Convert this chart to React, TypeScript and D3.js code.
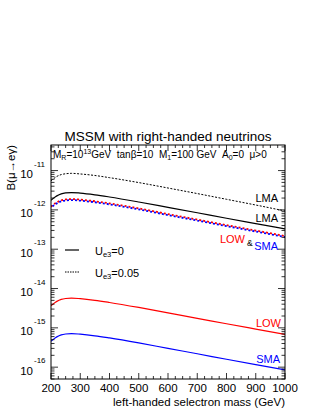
import React from 'react';
import * as d3 from 'd3';

// selectron mass (GeV)
const masses = [200, 210, 220, 235, 250, 270, 300, 350, 400, 500, 600, 700, 800, 900, 1000];

// B(mu -> e gamma)
const lmaDotted = [5.5e-12, 6.3e-12, 7.1e-12, 7.9e-12, 8.3e-12, 8.5e-12, 8.2e-12, 7.5e-12, 6.6e-12, 4.95e-12, 3.6e-12, 2.6e-12, 1.86e-12, 1.33e-12, 9.4e-13];
const lmaSolid = [1.76e-12, 2.02e-12, 2.27e-12, 2.56e-12, 2.7e-12, 2.76e-12, 2.67e-12, 2.42e-12, 2.13e-12, 1.59e-12, 1.16e-12, 8.45e-13, 6.13e-13, 4.49e-13, 3.29e-13];
const lowSmaDotted = [1.17e-12, 1.35e-12, 1.51e-12, 1.7e-12, 1.79e-12, 1.83e-12, 1.77e-12, 1.61e-12, 1.42e-12, 1.06e-12, 7.6e-13, 5.5e-13, 3.98e-13, 2.9e-13, 2.1e-13];
const lowSolid = [3.64e-15, 4.19e-15, 4.71e-15, 5.3e-15, 5.58e-15, 5.71e-15, 5.52e-15, 5.02e-15, 4.42e-15, 3.3e-15, 2.4e-15, 1.75e-15, 1.27e-15, 9.29e-16, 6.81e-16];
const smaSolid = [4.55e-16, 5.24e-16, 5.89e-16, 6.63e-16, 6.98e-16, 7.14e-16, 6.9e-16, 6.28e-16, 5.53e-16, 4.13e-16, 3.0e-16, 2.19e-16, 1.59e-16, 1.16e-16, 8.5e-17];

const xTickLabels = [200, 300, 400, 500, 600, 700, 800, 900, 1000];
const yDecades = [-16, -15, -14, -13, -12, -11];

const W = 316;
const H = 409;
const left = 51;
const right = 285;
const top = 145;
const bottom = 379;
const font = "'Liberation Sans', Arial, Helvetica, sans-serif";
const sp = '\u00a0';

export default function App() {
  const x = d3.scaleLinear().domain([200, 1000]).range([left, right]);
  const y = d3.scaleLog().domain([5e-17, 4.47e-11]).range([bottom, top]);

  const line = (vals: number[]) =>
    d3.line<number>()
      .x((_, i) => x(masses[i]))
      .y(d => y(d))
      .curve(d3.curveMonotoneX)(vals) as string;

  // log minor ticks
  const yMinor: number[] = [];
  for (let d = -17; d <= -11; d++) {
    for (let k = 2; k <= 9; k++) {
      const v = k * Math.pow(10, d);
      if (v > 5e-17 && v < 4.47e-11) yMinor.push(v);
    }
  }
  const xMinor = d3.range(200, 1001, 25).filter(v => v % 100 !== 0);

  return (
    <svg width={W} height={H} style={{ position: 'absolute', left: 0, top: 0, background: '#fff' }} fontFamily={font}>
      <text x={168} y={141} fontSize={13.5} textAnchor="middle">MSSM with right-handed neutrinos</text>

      {/* curves */}
      <g fill="none" clipPath="url(#clip)">
        <path d={line(lmaDotted)} stroke="#000" strokeWidth={1} strokeDasharray="2,1.5" />
        <path d={line(lmaSolid)} stroke="#000" strokeWidth={1.2} />
        <path d={line(lowSmaDotted)} stroke="#ff0000" strokeWidth={1.8} strokeDasharray="2,2" transform="translate(0,-0.5)" />
        <path d={line(lowSmaDotted)} stroke="#0000ff" strokeWidth={1.8} strokeDasharray="2,2" strokeDashoffset={2} transform="translate(0,0.5)" />
        <path d={line(lowSolid)} stroke="#ff0000" strokeWidth={1.2} />
        <path d={line(smaSolid)} stroke="#0000ff" strokeWidth={1.2} />
      </g>
      <defs>
        <clipPath id="clip">
          <rect x={left} y={top} width={right - left} height={bottom - top} />
        </clipPath>
      </defs>

      {/* frame */}
      <rect x={left} y={top} width={right - left} height={bottom - top} fill="none" stroke="#000" strokeWidth={1} />

      {/* ticks, inward on all sides */}
      <g stroke="#000" strokeWidth={0.8}>
        {xTickLabels.map(v => (
          <g key={'xm' + v}>
            <line x1={x(v)} x2={x(v)} y1={bottom} y2={bottom - 6} />
            <line x1={x(v)} x2={x(v)} y1={top} y2={top + 6} />
          </g>
        ))}
        {xMinor.map(v => (
          <g key={'xn' + v}>
            <line x1={x(v)} x2={x(v)} y1={bottom} y2={bottom - 3} />
            <line x1={x(v)} x2={x(v)} y1={top} y2={top + 3} />
          </g>
        ))}
        {yDecades.map(d => {
          const yy = y(Math.pow(10, d));
          return (
            <g key={'ym' + d}>
              <line x1={left} x2={left + 7} y1={yy} y2={yy} />
              <line x1={right} x2={right - 7} y1={yy} y2={yy} />
            </g>
          );
        })}
        {yMinor.map((v, i) => (
          <g key={'yn' + i}>
            <line x1={left} x2={left + 3.5} y1={y(v)} y2={y(v)} />
            <line x1={right} x2={right - 3.5} y1={y(v)} y2={y(v)} />
          </g>
        ))}
      </g>

      {/* x tick labels */}
      {xTickLabels.map(v => (
        <text key={'xl' + v} x={x(v)} y={392} fontSize={11.5} textAnchor="middle">{v}</text>
      ))}
      <text x={right} y={406} fontSize={11.5} textAnchor="end">left-handed selectron mass (GeV)</text>

      {/* y tick labels */}
      {yDecades.map(d => {
        const yy = y(Math.pow(10, d));
        return (
          <g key={'yl' + d}>
            <text x={33} y={yy + 7.5} fontSize={11.5} textAnchor="end">10</text>
            <text x={34} y={yy - 4} fontSize={8}>{d}</text>
          </g>
        );
      })}
      <text transform={`translate(15,${top}) rotate(-90)`} fontSize={11.5} textAnchor="end">B(μ→eγ)</text>

      {/* parameters */}
      <text x={53} y={158} fontSize={10}>
        <tspan>M</tspan><tspan fontSize={7} dy={2}>R</tspan><tspan dy={-2}>=10</tspan><tspan fontSize={7} dy={-4}>13</tspan>
        <tspan dy={4}>{`GeV${sp}${sp}tanβ=10${sp}${sp}M`}</tspan><tspan fontSize={7} dy={2}>1</tspan><tspan dy={-2}>{`=100 GeV${sp}${sp}A`}</tspan>
        <tspan fontSize={7} dy={2}>0</tspan><tspan dy={-2}>{`=0${sp}${sp}μ>0`}</tspan>
      </text>

      {/* legend */}
      <line x1={65} x2={79} y1={250} y2={250} stroke="#000" strokeWidth={1.2} />
      <text x={95} y={255} fontSize={11}>U<tspan fontSize={7.5} dy={2}>e3</tspan><tspan dy={-2}>=0</tspan></text>
      <line x1={65} x2={79} y1={272} y2={272} stroke="#000" strokeWidth={1} strokeDasharray="1.5,1" />
      <text x={95} y={277} fontSize={11}>U<tspan fontSize={7.5} dy={2}>e3</tspan><tspan dy={-2}>=0.05</tspan></text>

      {/* curve labels */}
      <text x={278} y={202} fontSize={11} textAnchor="end">LMA</text>
      <text x={278} y={222} fontSize={11} textAnchor="end">LMA</text>
      <text x={245} y={243} fontSize={11} textAnchor="end" fill="#ff0000">LOW</text>
      <text x={247} y={246} fontSize={8.5}>&amp;</text>
      <text x={278} y={250} fontSize={11} textAnchor="end" fill="#0000ff">SMA</text>
      <text x={281} y={327} fontSize={11} textAnchor="end" fill="#ff0000">LOW</text>
      <text x={280} y={363} fontSize={11} textAnchor="end" fill="#0000ff">SMA</text>
    </svg>
  );
}
